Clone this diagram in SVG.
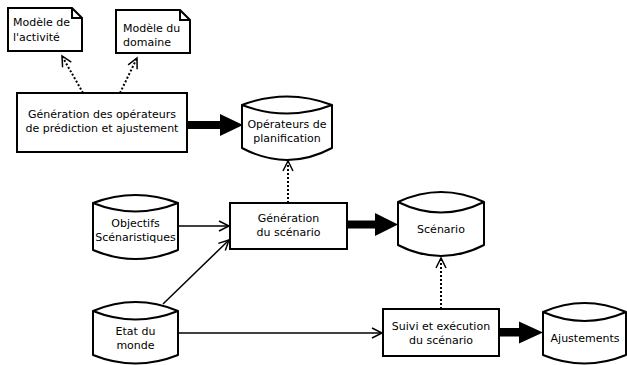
<svg xmlns="http://www.w3.org/2000/svg" width="627" height="365" viewBox="0 0 627 365">
<style>
.box{fill:#fff;stroke:#000;stroke-width:2}
.cyl{fill:#fff;stroke:#000;stroke-width:2;stroke-linejoin:round}
.t{font-family:"DejaVu Sans",sans-serif;font-size:11px;fill:#000;text-anchor:middle}
.tl{font-family:"DejaVu Sans",sans-serif;font-size:11px;fill:#000}
.ln{fill:none;stroke:#000;stroke-width:1.5}
.dot{fill:none;stroke:#000;stroke-width:2;stroke-dasharray:2,2}
.thick{fill:#000;stroke:none}
</style>
<defs>
<marker id="open" markerUnits="userSpaceOnUse" markerWidth="14" markerHeight="14" refX="11" refY="6" orient="auto" viewBox="0 0 14 12">
<path d="M1,1 L11,6 L1,11" fill="none" stroke="#000" stroke-width="1.5"/>
</marker>
</defs>
<g id="connectors">
<path class="dot" d="M83,93 L62,56" marker-end="url(#open)"/>
<path class="dot" d="M120,93 L137,58" marker-end="url(#open)"/>
<path class="dot" d="M288,203 L288,161" marker-end="url(#open)"/>
<path class="dot" d="M441,309 L441,258" marker-end="url(#open)"/>
<path class="ln" d="M178,226 L229,226" marker-end="url(#open)"/>
<path class="ln" d="M163,304 L229,240" marker-end="url(#open)"/>
<path class="ln" d="M178,333 L382,333" marker-end="url(#open)"/>
<polygon class="thick" points="187,121 220,121 220,114 243,125 220,136 220,129 187,129"/>
<polygon class="thick" points="347,220.5 375,220.5 375,213 398,224.5 375,236 375,228.5 347,228.5"/>
<polygon class="thick" points="499,328 519,328 519,321.5 543,332.5 519,343.5 519,336.5 499,336.5"/>
</g>
<g id="modele-activite">
<path class="box" d="M8,8 L72,8 L82,18 L82,51 L8,51 Z M72,8 L72,18 L82,18"/>
<text class="tl" x="13" y="26">Modèle de</text>
<text class="tl" x="13" y="41">l'activité</text>
</g>
<g id="modele-domaine">
<path class="box" d="M116,10 L180,10 L190,20 L190,53 L116,53 Z M180,10 L180,20 L190,20"/>
<text class="tl" x="123" y="32">Modèle du</text>
<text class="tl" x="123" y="46">domaine</text>
</g>
<g id="generation-operateurs">
<rect class="box" x="17" y="93" width="170" height="59"/>
<text class="t" x="102" y="118">Génération des opérateurs</text>
<text class="t" x="102" y="132">de prédiction et ajustement</text>
</g>
<g id="operateurs-planification">
<path class="cyl" d="M242,105 Q287,88 332,105 L332,148 Q287,172 242,148 Z M242,105 Q287,122 332,105"/>
<text class="t" x="287" y="128">Opérateurs de</text>
<text class="t" x="287" y="142">planification</text>
</g>
<g id="objectifs">
<path class="cyl" d="M93,203 Q135.5,187 178,203 L178,250 Q135.5,268 93,250 Z M93,203 Q135.5,220 178,203"/>
<text class="t" x="135.5" y="227">Objectifs</text>
<text class="t" x="135.5" y="241">Scénaristiques</text>
</g>
<g id="generation-scenario">
<rect class="box" x="230" y="203" width="117" height="46"/>
<text class="t" x="288.5" y="222">Génération</text>
<text class="t" x="288.5" y="236">du scénario</text>
</g>
<g id="scenario">
<path class="cyl" d="M398,202 Q441,182 484,202 L484,245 Q441,267 398,245 Z M398,202 Q441,223 484,202"/>
<text class="t" x="441" y="233">Scénario</text>
</g>
<g id="etat-monde">
<path class="cyl" d="M93,311 Q135.5,293 178,311 L178,355 Q135.5,372 93,355 Z M93,311 Q135.5,328 178,311"/>
<text class="t" x="135.5" y="335">Etat du</text>
<text class="t" x="135.5" y="349">monde</text>
</g>
<g id="suivi-execution">
<rect class="box" x="383" y="309" width="116" height="47"/>
<text class="t" x="441" y="330">Suivi et exécution</text>
<text class="t" x="441" y="344">du scénario</text>
</g>
<g id="ajustements">
<path class="cyl" d="M543,312 Q584.5,294 626,312 L626,355 Q584.5,372 543,355 Z M543,312 Q584.5,330 626,312"/>
<text class="t" x="585" y="342">Ajustements</text>
</g>
</svg>
